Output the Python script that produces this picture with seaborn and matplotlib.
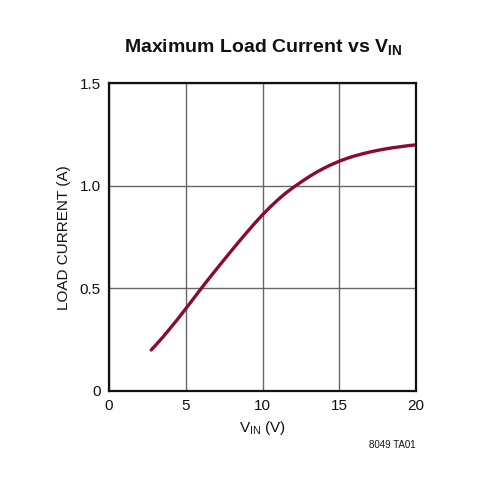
import matplotlib
matplotlib.use("Agg")
import matplotlib.pyplot as plt
import seaborn as sns
import pandas as pd

# Data
vin = [2.75, 3.0, 3.5, 4.0, 4.5, 5.0, 5.5, 6.0, 6.5, 7.0, 7.5, 8.0, 8.5, 9.0,
       9.5, 10.0, 10.5, 11.0, 11.5, 12.0, 12.5, 13.0, 13.5, 14.0, 14.5, 15.0,
       15.5, 16.0, 16.5, 17.0, 17.5, 18.0, 18.5, 19.0, 19.5, 20.0]
load_current = [0.200, 0.220, 0.262, 0.307, 0.353, 0.401, 0.450, 0.499, 0.547,
                0.594, 0.640, 0.686, 0.731, 0.775, 0.818, 0.859, 0.897, 0.932,
                0.964, 0.992, 1.018, 1.043, 1.066, 1.086, 1.104, 1.120, 1.134,
                1.146, 1.156, 1.165, 1.173, 1.180, 1.186, 1.191, 1.196, 1.200]
x_ticks = [0, 5, 10, 15, 20]
y_ticks = [0, 0.5, 1.0, 1.5]
y_tick_labels = ["0", "0.5", "1.0", "1.5"]

df = pd.DataFrame({"vin": vin, "i": load_current})

sns.set_theme(style="white")
plt.rcParams['font.family'] = ['Liberation Sans', 'DejaVu Sans']

fig = plt.figure(figsize=(5, 5), dpi=100)
ax = fig.add_axes([0.218, 0.218, 0.614, 0.6154])

sns.lineplot(data=df, x="vin", y="i", ax=ax, color="#8a0b2c", linewidth=2.4)
for line in ax.lines:
    line.set_solid_capstyle("round")
    line.set_solid_joinstyle("round")

ax.set_xlim(0, 20)
ax.set_ylim(0, 1.5)
ax.set_xticks(x_ticks)
ax.set_yticks(y_ticks)
ax.set_yticklabels(y_tick_labels)
ax.tick_params(axis='both', length=0, labelsize=11, colors="#111111", pad=6)
ax.grid(True, color="#666666", linewidth=1.0)
for s in ax.spines.values():
    s.set_visible(True)
    s.set_color("#111111")
    s.set_linewidth(1.6)

ax.set_xlabel(r"V$_\mathregular{IN}$ (V)", fontsize=11, color="#111111", labelpad=4)
ax.set_ylabel("LOAD CURRENT (A)", fontsize=11, color="#111111", labelpad=6)

fig.text(0.526, 0.905, r"Maximum Load Current vs V$_\mathregular{IN}$",
         ha="center", va="center", fontsize=14, fontweight="bold",
         color="#111111")
fig.text(0.832, 0.11, "8049 TA01", ha="right", va="center", fontsize=7,
         color="#111111")

fig.savefig("out.png", dpi=100)
